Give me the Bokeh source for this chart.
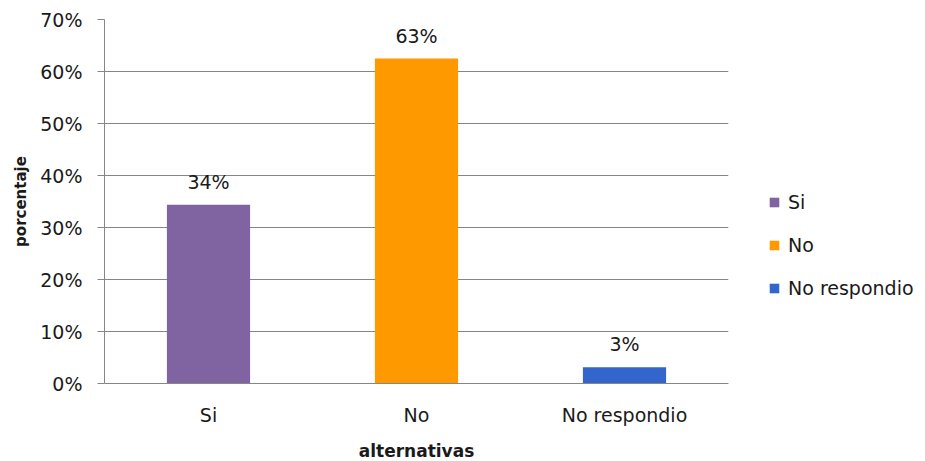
from bokeh.plotting import figure
from bokeh.models import ColumnDataSource, Range1d, NumeralTickFormatter, LabelSet, FixedTicker
from bokeh.core.properties import value
from bokeh.embed import file_html
from bokeh.resources import INLINE

categories = ["Si", "No", "No respondio"]
values = [0.34375, 0.625, 0.03125]
value_labels = ["34%", "63%", "3%"]
colors = ["#8064A2", "#FF9900", "#3366CC"]
y_ticks = [0.0, 0.1, 0.2, 0.3, 0.4, 0.5, 0.6, 0.7]

FONT = "DejaVu Sans"
TXT = "19px"
source = ColumnDataSource(dict(cat=categories, val=values, lab=value_labels, col=colors))

p = figure(x_range=categories, y_range=Range1d(0, 0.7), frame_width=624, frame_height=364,
           output_backend="svg", toolbar_location=None,
           min_border_left=104, min_border_right=10, min_border_top=19, min_border_bottom=70)
p.outline_line_color = None
p.background_fill_color = "white"
p.border_fill_color = "white"

p.vbar(x="cat", top="val", width=0.4, fill_color="col", line_color=None,
       source=source, legend_field="cat")

labels = LabelSet(x="cat", y="val", text="lab", source=source, text_align="center",
                  text_baseline="bottom", y_offset=12, text_font=value(FONT),
                  text_font_size=TXT, text_color="#1a1a1a")
p.add_layout(labels)

p.xgrid.grid_line_color = None
p.ygrid.grid_line_color = "#868686"
p.ygrid.grid_line_width = 1
p.ygrid.level = "underlay"

p.yaxis.ticker = FixedTicker(ticks=y_ticks)
p.yaxis.formatter = NumeralTickFormatter(format="0%")
p.yaxis.minor_tick_line_color = None
p.yaxis.major_tick_in = 0
p.yaxis.major_tick_out = 7
p.yaxis.major_tick_line_color = "#868686"
p.yaxis.axis_line_color = "#868686"
p.yaxis.major_label_text_font = FONT
p.yaxis.major_label_text_font_size = TXT
p.yaxis.major_label_text_color = "#1a1a1a"
p.yaxis.major_label_standoff = 15
p.yaxis.axis_label = "porcentaje"
p.yaxis.axis_label_text_font = FONT
p.yaxis.axis_label_text_font_style = "bold"
p.yaxis.axis_label_text_font_size = "15px"
p.yaxis.axis_label_text_color = "#1a1a1a"
p.yaxis.axis_label_standoff = 7

p.xaxis.axis_line_color = "#868686"
p.xaxis.major_tick_line_color = None
p.xaxis.major_label_text_font = FONT
p.xaxis.major_label_text_font_size = TXT
p.xaxis.major_label_text_color = "#1a1a1a"
p.xaxis.major_label_standoff = 14
p.xaxis.axis_label = "alternativas"
p.xaxis.axis_label_text_font = FONT
p.xaxis.axis_label_text_font_style = "bold"
p.xaxis.axis_label_text_font_size = "17px"
p.xaxis.axis_label_text_color = "#1a1a1a"
p.xaxis.axis_label_standoff = 12

lg = p.legend[0]
if lg in p.center:
    p.center.remove(lg)
lg.location = (40, 84)
lg.background_fill_alpha = 0
lg.border_line_color = None
lg.padding = 0
lg.margin = 0
lg.glyph_width = 12
lg.glyph_height = 12
lg.label_height = 20
lg.spacing = 21
lg.label_standoff = 8
lg.label_text_font = FONT
lg.label_text_font_size = TXT
lg.label_text_color = "#1a1a1a"
p.add_layout(lg, "right")

open("out.html", "w").write(file_html(p, INLINE))
